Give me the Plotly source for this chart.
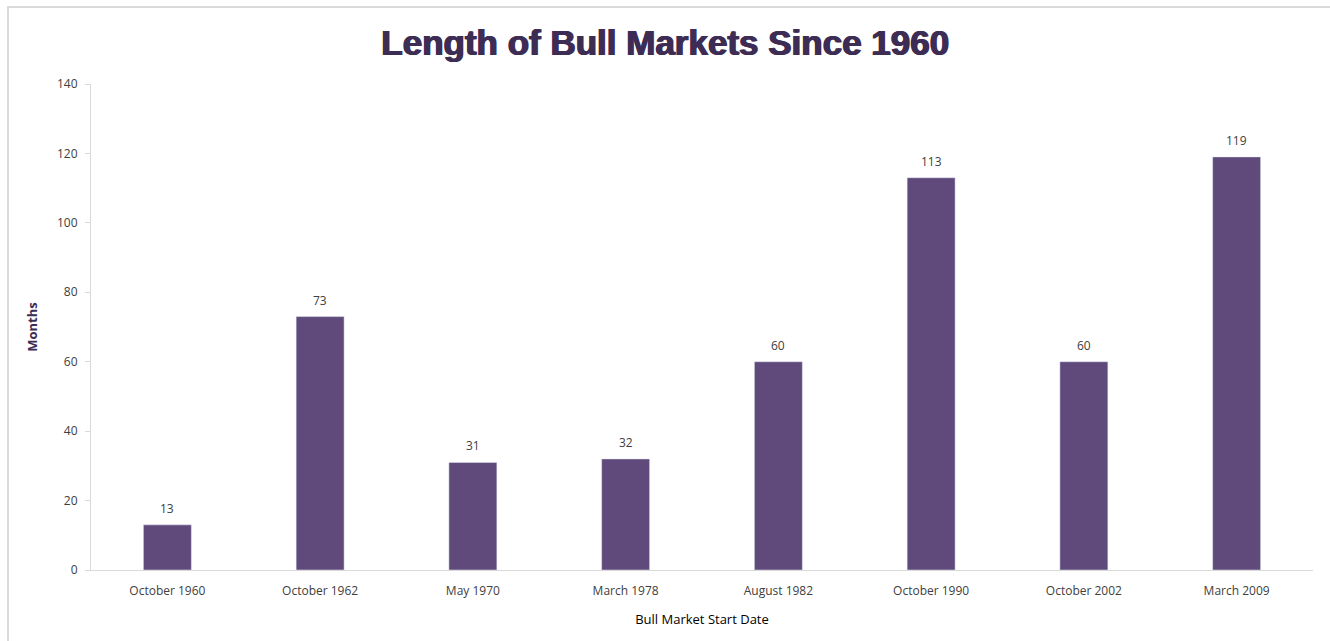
import plotly.graph_objects as go

categories = ["October 1960", "October 1962", "May 1970", "March 1978",
              "August 1982", "October 1990", "October 2002", "March 2009"]
months = [13, 73, 31, 32, 60, 113, 60, 119]
y_ticks = [0, 20, 40, 60, 80, 100, 120, 140]

FONT = "Open Sans, Liberation Sans, sans-serif"

fig = go.Figure(go.Bar(
    x=categories, y=months,
    marker=dict(color="#604a7b"),
    hoverinfo="x+y",
))

for c, v in zip(categories, months):
    fig.add_annotation(x=c, y=v, text=str(v), showarrow=False,
                       yanchor="bottom", yshift=6,
                       font=dict(family=FONT, size=12, color="#404040"))

title_color = "#3d2c54"
fig.update_layout(
    width=1330, height=641,
    margin=dict(l=91, r=17, t=84, b=71),
    paper_bgcolor="white", plot_bgcolor="white",
    bargap=0.686,
    showlegend=False,
    title=dict(text="<b>Length of Bull Markets Since 1960</b>", x=0.5, xanchor="center",
               y=1 - 43 / 641, yref="container", yanchor="middle",
               font=dict(family="Liberation Sans, Arial, sans-serif", size=35, color=title_color,
                         shadow=f"1px 0 0 {title_color}, -0.5px 0 0 {title_color}")),
    xaxis=dict(
        showline=True, linecolor="#d9d9d9", linewidth=1,
        ticks="outside", ticklen=10, tickcolor="rgba(0,0,0,0)", showgrid=False,
        tickfont=dict(family=FONT, size=12, color="#404040"),
        title=dict(text="Bull Market Start Date", standoff=16,
                   font=dict(family=FONT, size=13, color="#000000")),
    ),
    yaxis=dict(
        range=[0, 140], tickvals=y_ticks,
        showline=True, linecolor="#d9d9d9", linewidth=1,
        ticks="outside", ticklen=5, tickcolor="#d9d9d9",
        ticklabelstandoff=5,
        showgrid=False, zeroline=False,
        tickfont=dict(family=FONT, size=12, color="#404040"),
        title=dict(text="<b>Months</b>", standoff=16,
                   font=dict(family=FONT, size=13, color=title_color)),
    ),
)

fig.add_shape(type="rect", xref="paper", yref="paper",
              x0=-83 / 1222, x1=1.02, y0=-0.2, y1=(570 - 7) / 486,
              line=dict(color="#d9d9d9", width=2), fillcolor="rgba(0,0,0,0)", layer="below")

fig.write_html("out.html")
